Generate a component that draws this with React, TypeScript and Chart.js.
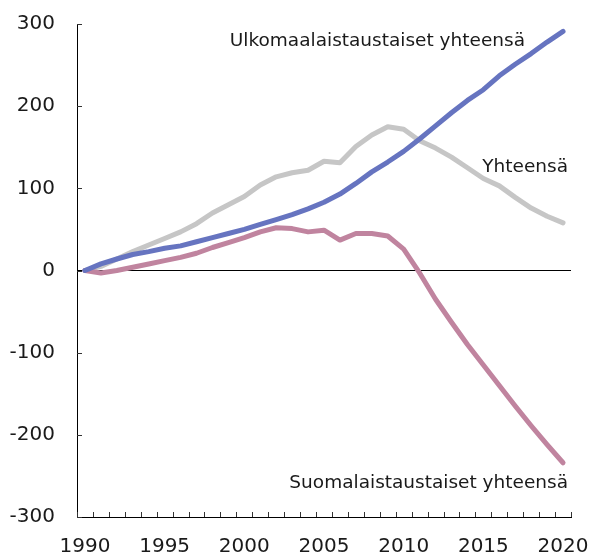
import React, { useEffect, useRef } from 'react';
import { Chart, registerables } from 'chart.js';

Chart.register(...registerables);

const years = [
  '1990', '1991', '1992', '1993', '1994', '1995', '1996', '1997', '1998', '1999',
  '2000', '2001', '2002', '2003', '2004', '2005', '2006', '2007', '2008', '2009',
  '2010', '2011', '2012', '2013', '2014', '2015', '2016', '2017', '2018', '2019', '2020',
];

const ulkomaalaistaustaiset = [
  0, 8, 14, 19.5, 23, 27, 30, 35, 40, 45,
  50, 56, 62, 68, 75, 83, 93, 106, 120, 132,
  145, 160, 176, 192, 207, 220, 237, 251, 264, 278, 291,
];

const suomalaistaustaiset = [
  0, -3, 0, 4, 8, 12, 16, 21, 28, 34,
  40, 47, 52, 51, 47, 49, 37, 45, 45, 42,
  26, -3, -35, -63, -90, -115, -140, -165, -189, -212, -234,
];

const yhteensa = [
  0, 5, 14, 23, 31, 39, 47, 57, 70, 80,
  90, 104, 114, 119, 122, 133, 131, 151, 165, 175,
  172, 158, 149, 138, 125, 112, 103, 89, 76, 66, 58,
];

const yTicks = [-300, -200, -100, 0, 100, 200, 300];
const xTickLabels = ['1990', '1995', '2000', '2005', '2010', '2015', '2020'];

const labelUlko = 'Ulkomaalaistaustaiset yhteensä';
const labelYht = 'Yhteensä';
const labelSuomi = 'Suomalaistaustaiset yhteensä';

const FONT = '"DejaVu Sans", "Liberation Sans", Arial, sans-serif';
const TEXT = '#1a1a1a';

const innerTicks = {
  id: 'innerTicks',
  beforeDatasetsDraw(chart: any) {
    const { ctx, chartArea, scales } = chart;
    ctx.save();
    ctx.strokeStyle = '#333';
    ctx.lineWidth = 1;
    const ys = scales.y;
    ys.ticks.forEach((t: any) => {
      const py = Math.round(ys.getPixelForValue(t.value)) + 0.5;
      ctx.beginPath();
      ctx.moveTo(chartArea.left, py);
      ctx.lineTo(chartArea.left + 5, py);
      ctx.stroke();
    });
    const n = years.length;
    const step = (chartArea.right - chartArea.left) / n;
    for (let k = 0; k <= n; k++) {
      const px = Math.round(chartArea.left + k * step) + 0.5;
      ctx.beginPath();
      ctx.moveTo(px, chartArea.bottom);
      ctx.lineTo(px, chartArea.bottom - 5);
      ctx.stroke();
    }
    ctx.restore();
  },
};

const seriesText = {
  id: 'seriesText',
  afterDatasetsDraw(chart: any) {
    const { ctx, chartArea, scales } = chart;
    ctx.save();
    ctx.font = `18.5px ${FONT}`;
    ctx.fillStyle = TEXT;
    ctx.textAlign = 'right';
    ctx.textBaseline = 'alphabetic';
    ctx.fillText(labelUlko, chartArea.right - 46, scales.y.getPixelForValue(273));
    ctx.fillText(labelYht, chartArea.right - 3, scales.y.getPixelForValue(120));
    ctx.fillText(labelSuomi, chartArea.right - 3, scales.y.getPixelForValue(-265));
    ctx.restore();
  },
};

export default function App() {
  const ref = useRef<HTMLCanvasElement | null>(null);

  useEffect(() => {
    if (!ref.current) return;
    const chart = new Chart(ref.current, {
      type: 'line',
      data: {
        labels: years,
        datasets: [
          {
            label: labelUlko,
            data: ulkomaalaistaustaiset,
            borderColor: '#6674c0',
            borderWidth: 5,
            pointRadius: 0,
            borderCapStyle: 'round',
            borderJoinStyle: 'round',
            tension: 0,
            order: 0,
          },
          {
            label: labelSuomi,
            data: suomalaistaustaiset,
            borderColor: '#c0849f',
            borderWidth: 5,
            pointRadius: 0,
            borderCapStyle: 'round',
            borderJoinStyle: 'round',
            tension: 0,
            order: 1,
          },
          {
            label: labelYht,
            data: yhteensa,
            borderColor: '#c6c6c6',
            borderWidth: 5,
            pointRadius: 0,
            borderCapStyle: 'round',
            borderJoinStyle: 'round',
            tension: 0,
            order: 2,
          },
        ],
      },
      options: {
        responsive: false,
        animation: false,
        devicePixelRatio: 1,
        layout: { padding: { top: 24, right: 18, left: 0, bottom: 0 } },
        plugins: {
          legend: { display: false },
          tooltip: { enabled: false },
        },
        scales: {
          x: {
            type: 'category',
            offset: true,
            grid: { display: false, drawTicks: false },
            border: { display: true, color: '#000', width: 1 },
            ticks: {
              autoSkip: false,
              maxRotation: 0,
              minRotation: 0,
              padding: 18,
              color: TEXT,
              font: { family: FONT, size: 20 },
              callback: (_v: any, i: number) => (xTickLabels.includes(years[i]) ? years[i] : ''),
            },
            afterFit: (s: any) => {
              s.height = 37;
              s.paddingLeft = 0;
              s.paddingRight = 0;
            },
          },
          y: {
            min: -300,
            max: 300,
            grid: {
              drawTicks: false,
              drawOnChartArea: true,
              color: (c: any) => (c.tick && c.tick.value === 0 ? '#000' : 'rgba(0,0,0,0)'),
              lineWidth: 1,
            },
            border: { display: true, color: '#000', width: 1 },
            afterBuildTicks: (s: any) => {
              s.ticks = yTicks.map((v) => ({ value: v }));
            },
            ticks: {
              padding: 22,
              color: TEXT,
              font: { family: FONT, size: 20 },
            },
            afterFit: (s: any) => {
              s.width = 77;
              s.paddingTop = 0;
              s.paddingBottom = 0;
            },
          },
        },
      },
      plugins: [innerTicks, seriesText],
    } as any);
    return () => chart.destroy();
  }, []);

  return (
    <div style={{ position: 'absolute', left: 0, top: 0, width: 589, height: 554 }}>
      <canvas ref={ref} width={589} height={554} />
    </div>
  );
}
